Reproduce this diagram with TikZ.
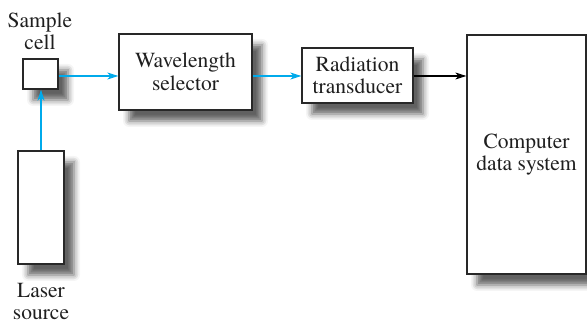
\documentclass[tikz,border=0pt]{standalone}
\usepackage{fontspec}
\setmainfont{texgyretermes}[Extension=.otf, UprightFont=*-regular, BoldFont=*-bold, ItalicFont=*-italic, BoldItalicFont=*-bolditalic, Ligatures=TeX]
\usetikzlibrary{arrows.meta,shadows.blur}
\definecolor{beam}{RGB}{0,170,235}
\definecolor{edge}{RGB}{40,40,40}
\tikzset{
  x=1pt,y=1pt,
  lbl/.style={font=\rmfamily\fontsize{21.5}{22.5}\selectfont, text=black!88},
  unit/.style={draw=edge, line width=1.3pt, fill=white, inner sep=0pt, align=center,
     font=\rmfamily\fontsize{21.5}{22.5}\selectfont, text=black!88,
     blur shadow={shadow xshift=10pt, shadow yshift=-11pt, shadow blur radius=6pt, shadow opacity=62}},
  tipshape/.style={-{Stealth[length=11pt,width=7pt,inset=3pt]}},
  beamarrow/.style={draw=beam, line width=1.25pt, tipshape},
  sigarrow/.style={draw=black, line width=1.1pt, tipshape},
}
\begin{document}
\begin{tikzpicture}
\useasboundingbox (0,0) rectangle (587,324);
\node[unit, minimum width=35pt, minimum height=30pt] (samp) at (40.5,250) {};
\node[unit, minimum width=133pt, minimum height=76pt] (wave) at (185.5,252) {Wavelength\\selector};
\node[unit, minimum width=111pt, minimum height=55pt] (rad) at (357.5,248.5) {Radiation\\transducer};
\node[unit, minimum width=119pt, minimum height=239pt] (comp) at (526.5,169.5) {Computer\\data system};
\node[unit, minimum width=46pt, minimum height=113pt] (laser) at (41,116.5) {};
\coordinate (axis) at (0,248);
\node[lbl, anchor=base] (s1) at (40,296) {Sample};
\node[lbl, anchor=base] (s2) at (40,274) {cell};
\node[lbl, anchor=base] (l1) at (41,26) {Laser};
\node[lbl, anchor=base] (l2) at (41,4) {source};
\draw[beamarrow] (samp.east |- axis) -- (wave.west |- axis);
\draw[beamarrow] (wave.east |- axis) -- (rad.west |- axis);
\draw[sigarrow] (rad.east |- axis) -- (comp.west |- axis);
\draw[beamarrow] (laser.north) -- (laser.north |- samp.south);
\end{tikzpicture}
\end{document}
